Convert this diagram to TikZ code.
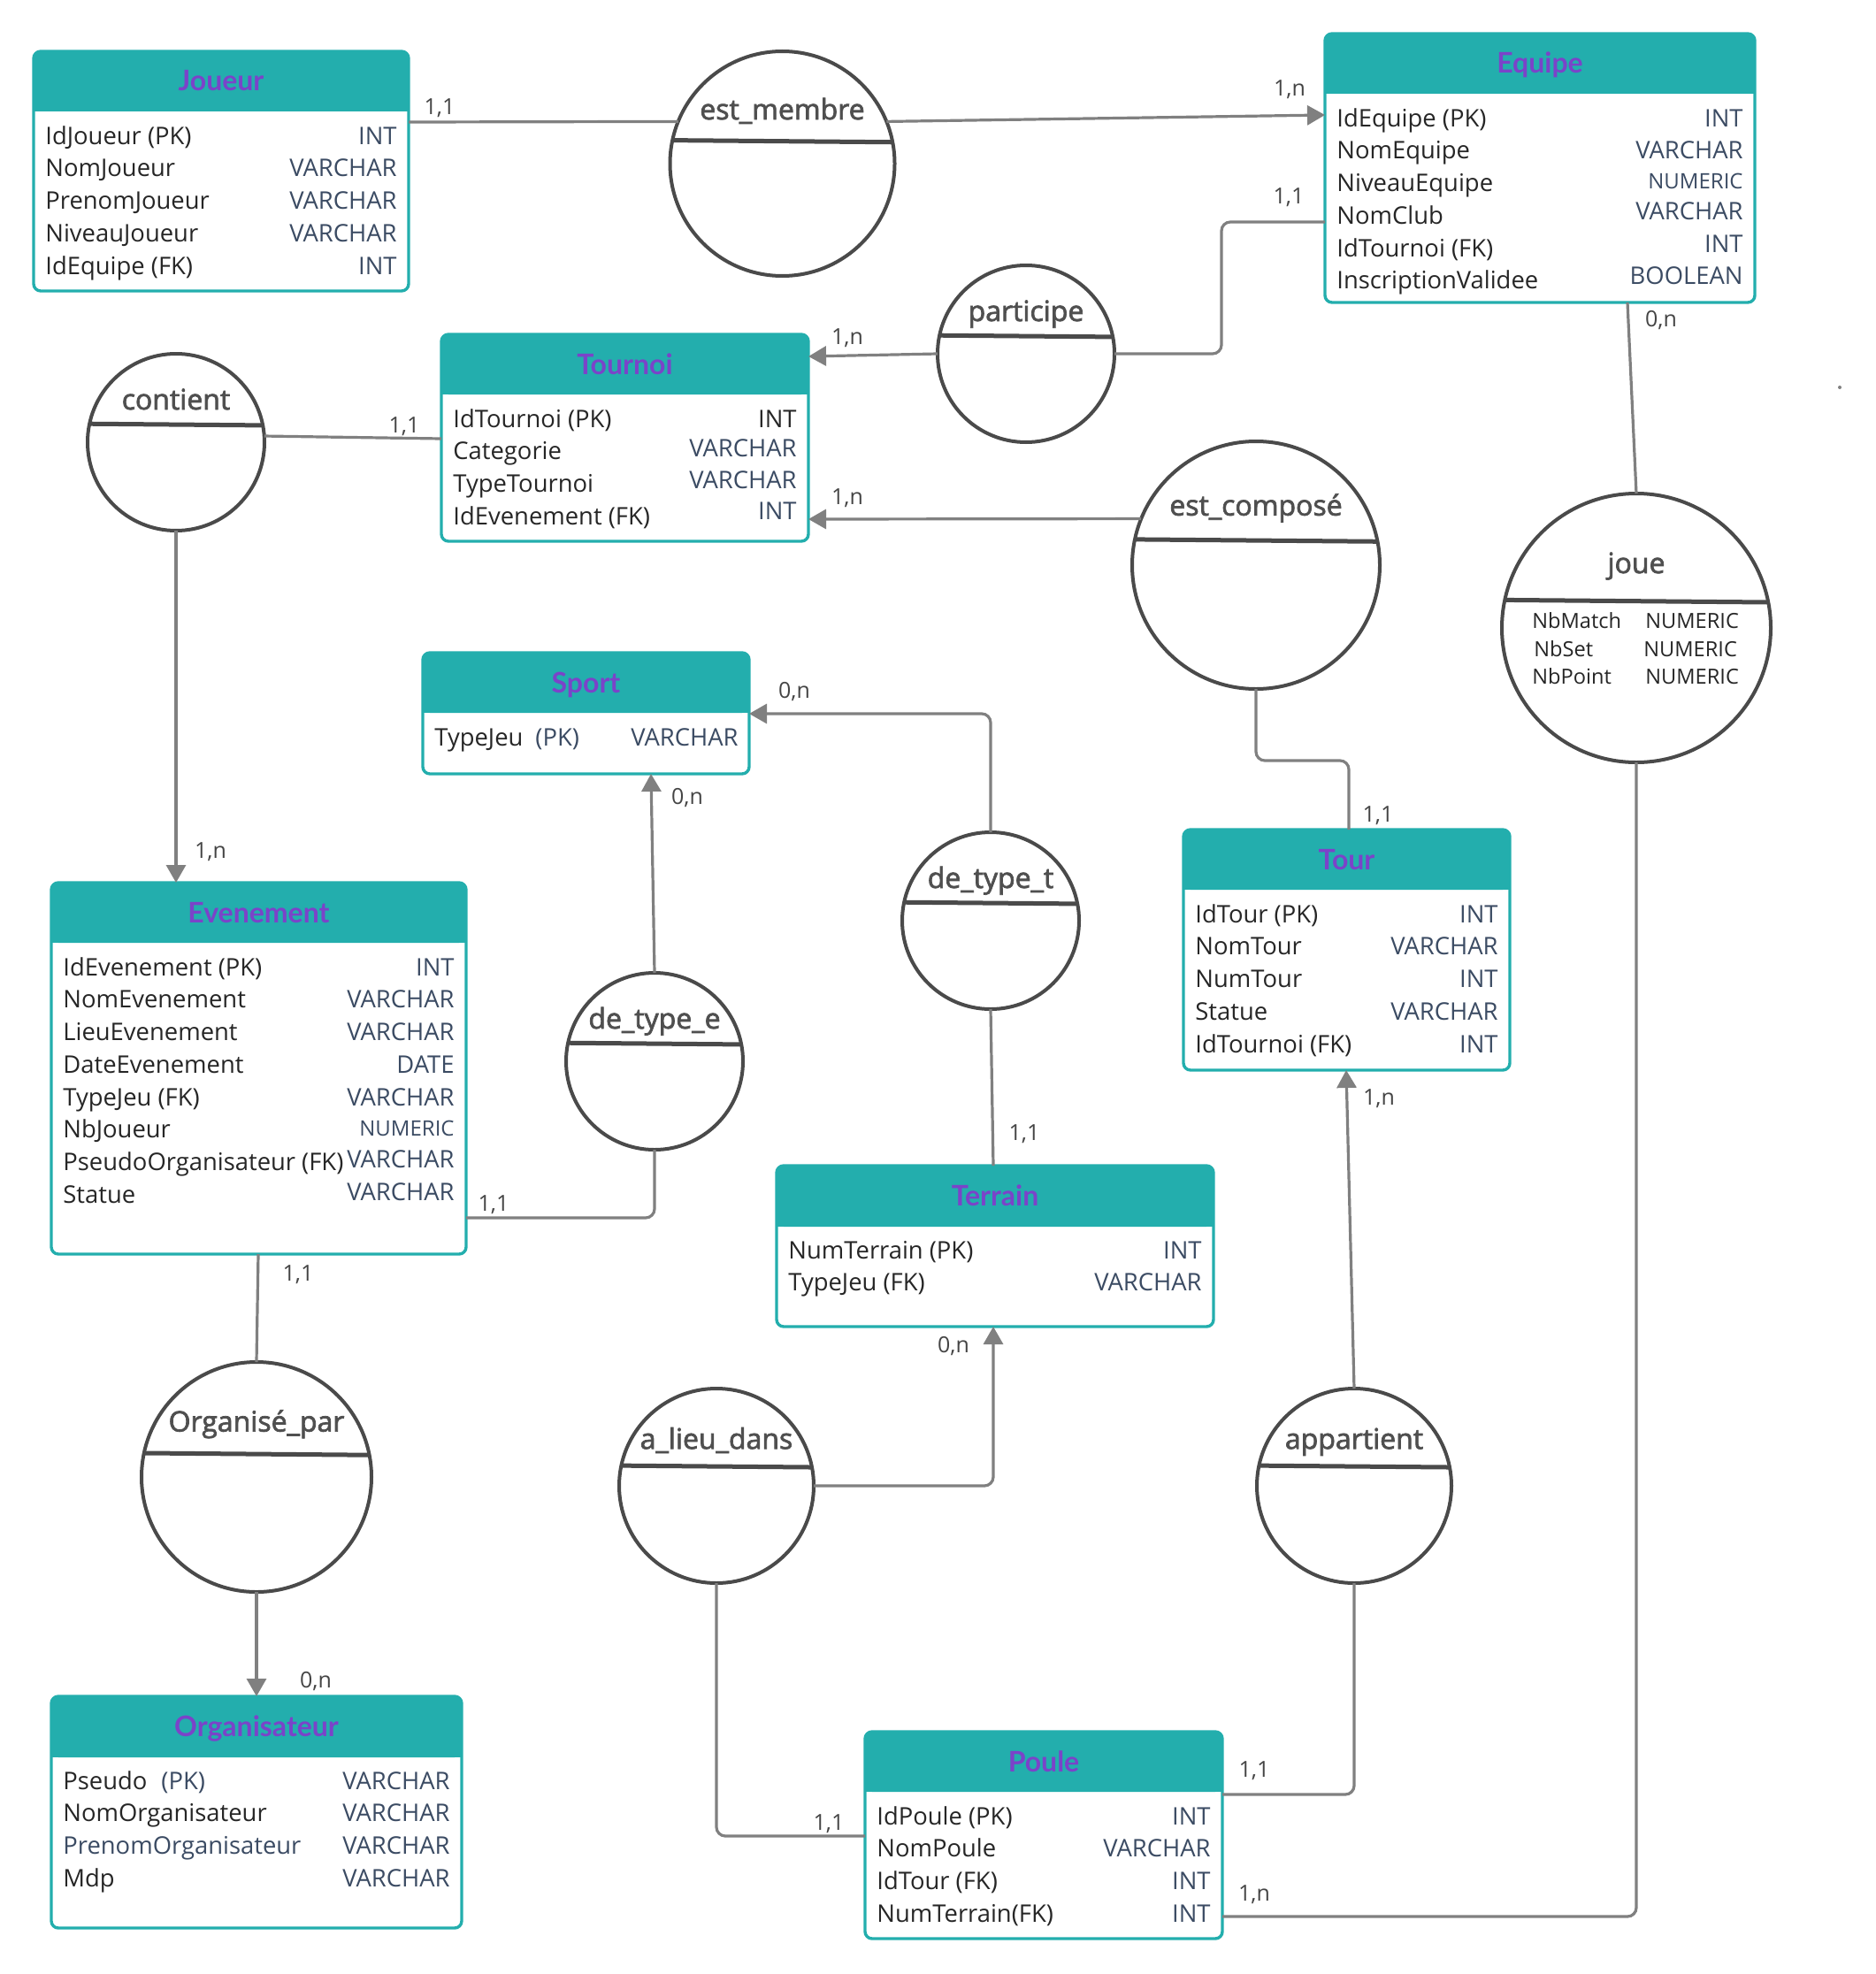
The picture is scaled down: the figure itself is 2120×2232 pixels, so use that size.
\documentclass[tikz,border=0pt]{standalone}
\usepackage{fontspec}
\setmainfont{Open Sans}
\newfontfamily\hdrfont{Lato}
\newfontfamily\relfont[FakeBold=2.2]{Open Sans}
\usetikzlibrary{arrows.meta,calc}

\definecolor{erteal}{HTML}{23AEAD}
\definecolor{erpurple}{HTML}{7B43C9}
\definecolor{namecol}{HTML}{262626}
\definecolor{typecol}{HTML}{3B4B63}
\definecolor{relline}{HTML}{4A4A4A}
\definecolor{reltext}{HTML}{4F4F4F}
\definecolor{connline}{HTML}{808080}
\definecolor{cardcol}{HTML}{444444}

\tikzset{
  entbox/.style={draw=erteal, line width=1.7pt, rounded corners=4pt, anchor=north west, inner sep=0pt, outer sep=0pt},
  hdrtitle/.style={font=\hdrfont\bfseries\fontsize{16}{19}\selectfont, text=erpurple, inner sep=0pt, anchor=base},
  attr/.style={font=\fontsize{13.7}{16}\selectfont, text=namecol, inner sep=0pt, anchor=base west},
  typ/.style={font=\fontsize{13.7}{16}\selectfont, text=typecol, inner sep=0pt, anchor=base east},
  relnode/.style={circle, draw=relline, line width=2pt, fill=white, inner sep=0pt, outer sep=0pt},
  divider/.style={draw=relline, line width=2.5pt},
  reltitle/.style={font=\relfont\fontsize{16}{19}\selectfont, text=reltext, inner sep=0pt, anchor=base},
  relattr/.style={font=\fontsize{11.8}{14}\selectfont, text=namecol, inner sep=0pt, anchor=base west},
  conn/.style={draw=connline, line width=1.6pt, rounded corners=5pt},
  arr/.style={-{Triangle[length=10pt,width=11pt]}},
  card/.style={font=\fontsize{12.5}{15}\selectfont, text=cardcol, inner sep=0pt, anchor=base},
}

% smaller type label
\newcommand{\smalltype}[1]{{\fontsize{12}{14}\selectfont #1}}

% entity: name, x1, y1, x2, y2, header bottom, title
\newcommand{\erentity}[7]{%
  \fill[erteal, rounded corners=4pt] (#2,#3) rectangle (#4,#6);
  \fill[erteal] (#2,{#6-20}) rectangle (#4,#6);
  \node[entbox, minimum width={(#4-#2)*0.5pt}, minimum height={(#5-#3)*0.5pt}] (#1) at (#2,#3) {};
  \node[hdrtitle] (#1-t) at ({(#2+#4)/2},{(#3+#6)/2+11}) {#7};
}

% attribute rows: name, x1, x2, first row centre, list of name/type/shift
\newcommand{\errows}[5]{%
  \foreach \a/\b/\d [count=\i] in {#5} {
    \node[attr] (#1-n\i) at ({#2+13},{#4+10+(\i-1)*36.75}) {\a};
    \node[typ] (#1-v\i) at ({#3-13},{#4+10+(\i-1)*36.75+\d}) {\b};
  }
}

% association: name, cx, cy, radius, divider offset, title
\newcommand{\errel}[6]{%
  \node[relnode, minimum size={#4*1pt}] (#1) at (#2,#3) {};
  \pgfmathsetmacro{\anga}{asin(#5/#4)}
  \pgfmathsetmacro{\angb}{180-\anga}
  \draw[divider] (#1.\anga) -- (#1.\angb);
  \node[reltitle] (#1-t) at (#2,{#3-0.48*#4+11}) {#6};
}

\begin{document}
\begin{tikzpicture}[x=0.5pt,y=-0.5pt]
\useasboundingbox (0,0) rectangle (2120,2232);

% ---------- entities ----------
\erentity{joueur}{38}{58}{462}{329}{126}{Joueur}
\errows{joueur}{38}{462}{153}{IdJoueur (PK)/INT/0, NomJoueur/VARCHAR/0, PrenomJoueur/VARCHAR/0, NiveauJoueur/VARCHAR/0, IdEquipe (FK)/INT/0}

\erentity{equipe}{1498}{38}{1984}{342}{106}{Equipe}
\errows{equipe}{1498}{1984}{133}{IdEquipe (PK)/INT/0, NomEquipe/VARCHAR/0, NiveauEquipe/\smalltype{NUMERIC}/-3, NomClub/VARCHAR/-5, IdTournoi (FK)/INT/-5, InscriptionValidee/BOOLEAN/-5}

\erentity{tournoi}{499}{378}{914}{612}{446}{Tournoi}
\errows{tournoi}{499}{914}{473}{IdTournoi (PK)/{\color{namecol}INT}/0, Categorie/VARCHAR/-3, TypeTournoi/VARCHAR/-4, IdEvenement (FK)/INT/-6}

\erentity{sport}{478}{738}{847}{875}{806}{Sport}
\node[attr] (sport-n1) at (491,843) {TypeJeu\hspace{7pt}{\color{typecol}(PK)}};
\node[typ] (sport-v1) at (835,843) {VARCHAR};

\erentity{evenement}{58}{998}{527}{1418}{1066}{Evenement}
\errows{evenement}{58}{527}{1093}{IdEvenement (PK)/INT/0, NomEvenement/VARCHAR/0, LieuEvenement/VARCHAR/0, DateEvenement/DATE/0, TypeJeu (FK)/VARCHAR/0, NbJoueur/\smalltype{NUMERIC}/-2, PseudoOrganisateur (FK)/VARCHAR/-3, Statue/VARCHAR/-3}

\erentity{organisateur}{58}{1918}{522}{2180}{1987}{Organisateur}
\errows{organisateur}{58}{522}{2013}{Pseudo\hspace{8pt}{\color{typecol}(PK)}/VARCHAR/0, NomOrganisateur/VARCHAR/0, {\color{typecol}PrenomOrganisateur}/VARCHAR/0, Mdp/VARCHAR/0}

\erentity{tour}{1338}{938}{1707}{1210}{1006}{Tour}
\errows{tour}{1338}{1707}{1033}{IdTour (PK)/INT/0, NomTour/VARCHAR/0, NumTour/INT/0, Statue/VARCHAR/0, IdTournoi (FK)/INT/0}

\erentity{terrain}{878}{1318}{1372}{1500}{1387}{Terrain}
\errows{terrain}{878}{1372}{1413}{NumTerrain (PK)/INT/0, TypeJeu (FK)/VARCHAR/0}

\erentity{poule}{978}{1958}{1382}{2192}{2026}{Poule}
\errows{poule}{978}{1382}{2053}{IdPoule (PK)/INT/0, NomPoule/VARCHAR/0, IdTour (FK)/INT/0, NumTerrain(FK)/INT/0}

% ---------- associations ----------
\errel{estm}{884.5}{185}{127}{26}{est\_membre}
\errel{part}{1160}{400}{100}{20}{participe}
\errel{cont}{199}{500}{100}{20}{contient}
\errel{estc}{1420}{639}{140}{27}{est\_composé}
\errel{joue}{1850}{710}{152}{30}{joue}
\errel{dte}{740}{1200}{100}{20}{de\_type\_e}
\errel{dtt}{1120}{1041}{100}{20}{de\_type\_t}
\errel{org}{290}{1670}{130}{26}{Organisé\_par}
\errel{ald}{810}{1680}{110}{22}{a\_lieu\_dans}
\errel{app}{1531}{1680}{110}{22}{appartient}

\node[relattr] (joue-a1) at (1732,710) {NbMatch};
\node[relattr] (joue-a2) at (1734,742) {NbSet};
\node[relattr] (joue-a3) at (1732,773) {NbPoint};
\node[relattr] (joue-b1) at (1860,710) {NUMERIC};
\node[relattr] (joue-b2) at (1858,742) {NUMERIC};
\node[relattr] (joue-b3) at (1860,773) {NUMERIC};

% ---------- connectors ----------
\draw[conn] ($(joueur.north east)+(0,80)$) -- (estm.158.3);
\draw[conn,arr] (estm.22) -- ($(equipe.north west)+(0,92)$);
\draw[conn] ($(equipe.north west)+(0,213)$) -- ++(-117,0) |- (part.east);
\draw[conn,arr] (part.west) -- ($(tournoi.north east)+(0,25)$);
\draw[conn] (cont.4) -- ($(tournoi.north west)+(0,118)$);
\draw[conn,arr] (cont.south) -- ($(evenement.north west)+(141,0)$);
\draw[conn,arr] (estc.158.2) -- ($(tournoi.north east)+(0,209)$);
\draw[conn] (estc.south) -- ++(0,81) -| ($(tour.north west)+(187,0)$);
\draw[conn] ($(equipe.south west)+(342,0)$) -- (joue.north);
\draw[conn] (joue.south) |- ($(poule.north east)+(0,209)$);
\draw[conn,arr] (dte.north) -- ($(sport.south west)+(258,0)$);
\draw[conn] (dte.south) |- ($(evenement.north east)+(0,379)$);
\draw[conn,arr] (dtt.north) |- ($(sport.north east)+(0,69)$);
\draw[conn] (dtt.south) -- ($(terrain.north west)+(245,0)$);
\draw[conn] ($(evenement.south west)+(234,0)$) -- (org.north);
\draw[conn,arr] (org.south) -- ($(organisateur.north west)+(232,0)$);
\draw[conn,arr] (ald.east) -| ($(terrain.south west)+(245,0)$);
\draw[conn] (ald.south) |- ($(poule.north west)+(0,118)$);
\draw[conn,arr] (app.north) -- ($(tour.south west)+(184,0)$);
\draw[conn] (app.south) |- ($(poule.north east)+(0,71)$);

% ---------- cardinalities ----------
\node[card] (c1) at (497,129) {1,1};
\node[card] (c2) at (1458,109) {1,n};
\node[card] (c3) at (1457,230) {1,1};
\node[card] (c4) at (958,389) {1,n};
\node[card] (c5) at (457,489) {1,1};
\node[card] (c6) at (238,970) {1,n};
\node[card] (c7) at (958,570) {1,n};
\node[card] (c8) at (1558,929) {1,1};
\node[card] (c9) at (1878,369) {0,n};
\node[card] (c10) at (1418,2149) {1,n};
\node[card] (c11) at (777,909) {0,n};
\node[card] (c12) at (558,1369) {1,1};
\node[card] (c13) at (898,789) {0,n};
\node[card] (c14) at (1158,1289) {1,1};
\node[card] (c15) at (337,1448) {1,1};
\node[card] (c16) at (357,1908) {0,n};
\node[card] (c17) at (1078,1529) {0,n};
\node[card] (c18) at (937,2069) {1,1};
\node[card] (c19) at (1559,1249) {1,n};
\node[card] (c20) at (1418,2009) {1,1};

% stray speck
\fill[connline] (2080,438) circle (1pt);
\end{tikzpicture}
\end{document}
